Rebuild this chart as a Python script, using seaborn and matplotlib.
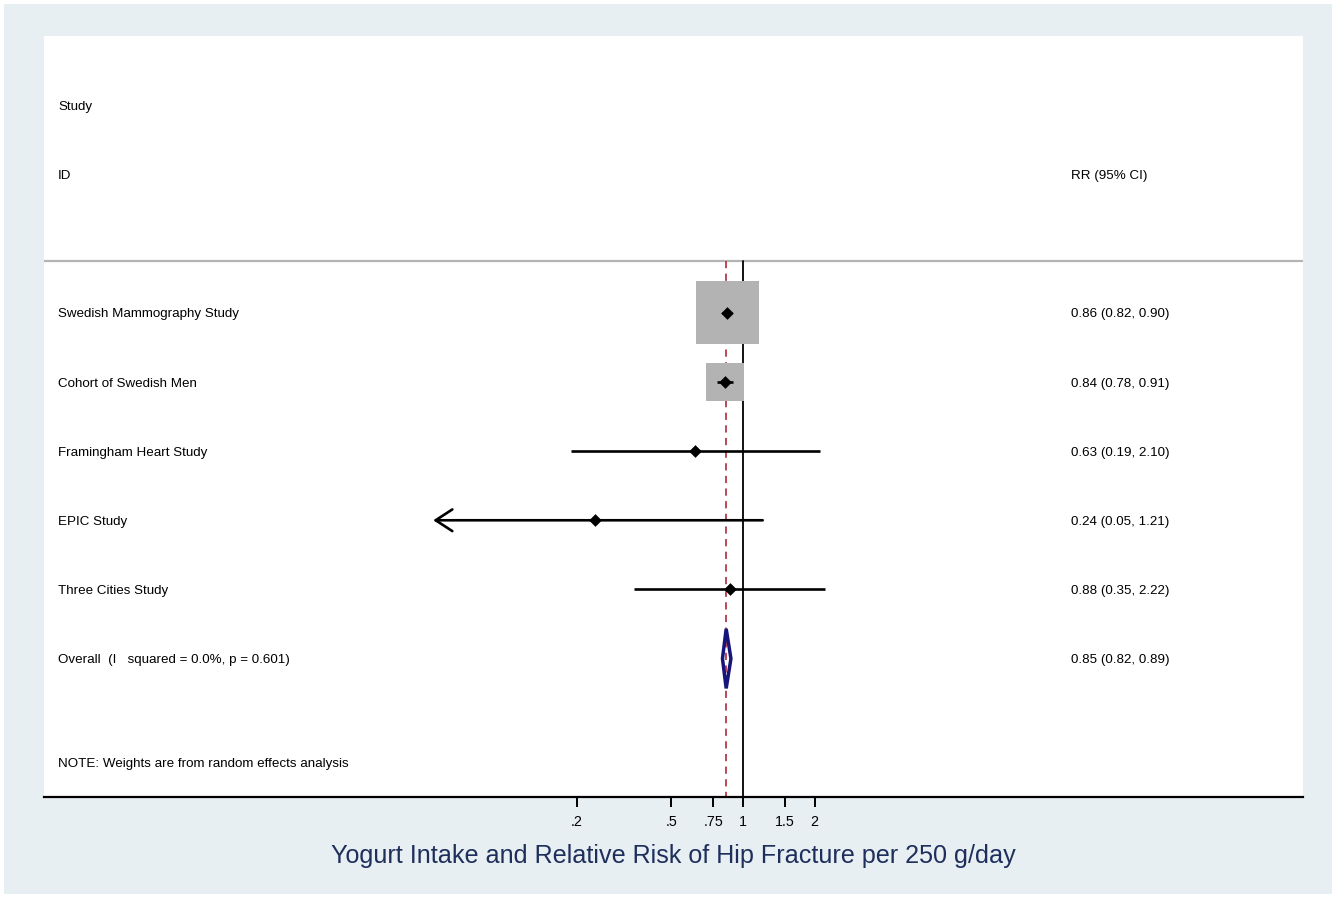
import matplotlib
matplotlib.use("Agg")
import matplotlib.pyplot as plt
from matplotlib.patches import Rectangle, Polygon
import seaborn as sns
import pandas as pd

# Study-level estimates (relative risk per 250 g/day of yogurt)
studies = ["Swedish Mammography Study", "Cohort of Swedish Men",
           "Framingham Heart Study", "EPIC Study", "Three Cities Study"]
rr = [0.86, 0.84, 0.63, 0.24, 0.88]
ci_low = [0.82, 0.78, 0.19, 0.05, 0.35]
ci_high = [0.90, 0.91, 2.10, 1.21, 2.22]
weights = [73.0, 26.6, 0.11, 0.06, 0.19]   # random-effects weights, %

overall_label = "Overall  (I   squared = 0.0%, p = 0.601)"
overall_rr, overall_low, overall_high = 0.85, 0.82, 0.89

tick_values = [0.2, 0.5, 0.75, 1, 1.5, 2]
tick_labels = [".2", ".5", ".75", "1", "1.5", "2"]

title = "Yogurt Intake and Relative Risk of Hip Fracture per 250 g/day"
note = "NOTE: Weights are from random effects analysis"

df = pd.DataFrame({"study": studies, "rr": rr, "lo": ci_low, "hi": ci_high,
                   "w": weights})
df["row"] = range(len(df))
overall_row = len(df)

sns.set_theme(style="white")
plt.rcParams["font.family"] = ["Liberation Sans", "DejaVu Sans"]
plt.rcParams["text.color"] = "black"
plt.rcParams["xtick.color"] = "black"

W, H, DPI = 1336, 898, 100
fig = plt.figure(figsize=(W / DPI, H / DPI), dpi=DPI, facecolor="white")
bg = "#e8eff2"
fig.patches.append(Rectangle((4 / W, 4 / H), 1 - 8 / W, 1 - 8 / H,
                             transform=fig.transFigure, facecolor=bg,
                             edgecolor="none", zorder=-10))

ax = fig.add_axes([44 / W, 1 - 797 / H, (1303 - 44) / W, (797 - 36) / H])
ax.set_facecolor("white")
ax.set_xscale("log")
ax.set_xlim(0.001159, 225)
ax.set_ylim(7.0, -4.0)

for side in ["top", "left", "right"]:
    ax.spines[side].set_visible(False)
ax.spines["bottom"].set_color("black")
ax.spines["bottom"].set_linewidth(1.6)

sep_y = -0.75
ax.axhline(sep_y, color="#b4b4b4", lw=1.6, zorder=1)

# reference lines: null effect and pooled estimate
ax.plot([1, 1], [sep_y, 7.0], color="black", lw=1.3, zorder=2)
ax.plot([overall_rr, overall_rr], [sep_y, 7.0], color="#b23a48", lw=1.3,
        ls=(0, (4, 3)), zorder=2.5)

# weight boxes, side proportional to sqrt(weight)
max_side_pt = 45.5
sides = [max_side_pt * (w / max(weights)) ** 0.5 for w in df["w"]]
ax.scatter(df["rr"], df["row"], s=[s_ ** 2 for s_ in sides], marker="s",
           color="#b3b3b3", edgecolors="none", zorder=3)

# confidence intervals
arrow_cut = 0.1
for _, r in df.iterrows():
    if r["lo"] < arrow_cut:
        ax.annotate("", xy=(r["lo"], r["row"]), xytext=(r["hi"], r["row"]),
                    arrowprops=dict(arrowstyle="->,head_length=1.0,head_width=0.65",
                                    color="black", lw=1.9, shrinkA=0, shrinkB=0),
                    zorder=4)
    else:
        ax.plot([r["lo"], r["hi"]], [r["row"], r["row"]], color="black",
                lw=1.9, zorder=4, solid_capstyle="butt")

sns.scatterplot(data=df, x="rr", y="row", marker="D", color="black", s=42,
                edgecolor="black", linewidth=0, ax=ax, zorder=5, legend=False)

# pooled estimate diamond (outline only)
h = 0.43
diamond = Polygon([(overall_low, overall_row), (overall_rr, overall_row - h),
                   (overall_high, overall_row), (overall_rr, overall_row + h)],
                  closed=True, facecolor="none", edgecolor="#15157a", lw=2.5,
                  zorder=6)
ax.add_patch(diamond)

# text columns
trans = ax.get_yaxis_transform()
xl, xr = (58 - 44) / 1259, (1071 - 44) / 1259
fs = 9.6
dy = 0.025
ax.text(xl, -3.0 + dy, "Study", transform=trans, va="center", fontsize=fs)
ax.text(xl, -2.0 + dy, "ID", transform=trans, va="center", fontsize=fs)
ax.text(xr, -2.0 + dy, "RR (95% CI)", transform=trans, va="center", fontsize=fs)
for _, r in df.iterrows():
    ax.text(xl, r["row"] + dy, r["study"], transform=trans, va="center",
            fontsize=fs)
    ax.text(xr, r["row"] + dy, f"{r['rr']:.2f} ({r['lo']:.2f}, {r['hi']:.2f})",
            transform=trans, va="center", fontsize=fs)
ax.text(xl, overall_row + dy, overall_label, transform=trans, va="center",
        fontsize=fs)
ax.text(xr, overall_row + dy,
        f"{overall_rr:.2f} ({overall_low:.2f}, {overall_high:.2f})",
        transform=trans, va="center", fontsize=fs)
ax.text(xl, 6.5 + dy, note, transform=trans, va="center", fontsize=fs)

# x axis
ax.set_xticks(tick_values)
ax.set_xticklabels(tick_labels)
ax.xaxis.set_minor_locator(matplotlib.ticker.NullLocator())
ax.tick_params(axis="x", bottom=True, direction="out", length=7, width=1.4,
               color="black", labelsize=10.3, pad=6, labelcolor="black")
ax.set_yticks([])
ax.set_ylabel("")
ax.set_xlabel(title, fontsize=18.1, color="#1e2f5c", labelpad=11)

fig.savefig("out.png", dpi=DPI, facecolor=fig.get_facecolor())
